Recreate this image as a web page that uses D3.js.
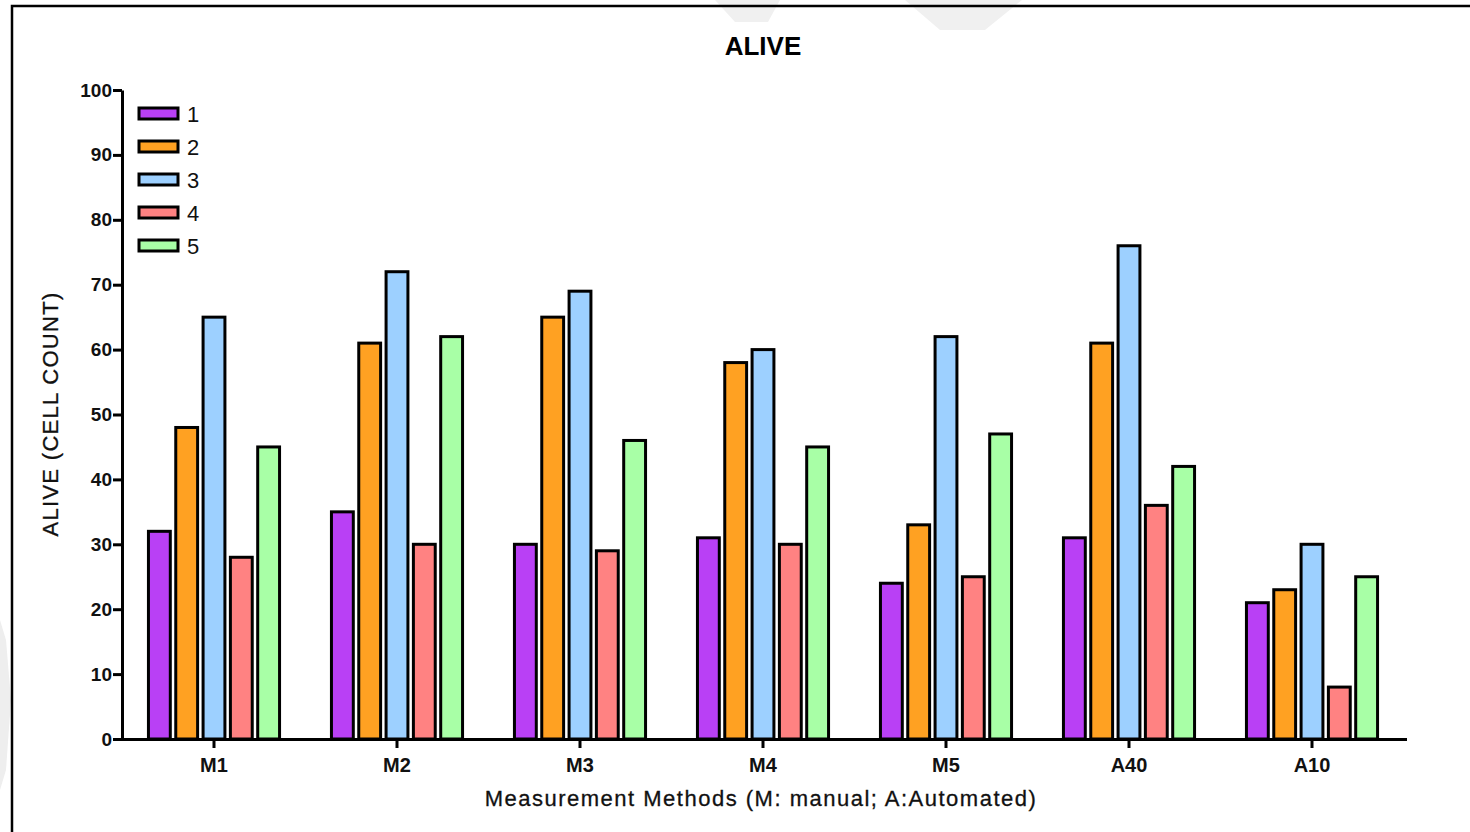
<!DOCTYPE html>
<meta charset="utf-8">
<style>
body { margin: 0; background: white; }
.axis text { font-family: "Liberation Sans", Arial, sans-serif; font-weight: bold; fill: #111; }
.axis line, .axis path { stroke: black; stroke-width: 3; }
</style>
<script src="https://d3js.org/d3.v7.min.js"></script>
<body>
<script>
const methods = ['M1', 'M2', 'M3', 'M4', 'M5', 'A40', 'A10'];
const seriesNames = ['1', '2', '3', '4', '5'];
const s1 = [32, 35, 30, 31, 24, 31, 21];
const s2 = [48, 61, 65, 58, 33, 61, 23];
const s3 = [65, 72, 69, 60, 62, 76, 30];
const s4 = [28, 30, 29, 30, 25, 36, 8];
const s5 = [45, 62, 46, 45, 47, 42, 25];
const yTicks = [0, 10, 20, 30, 40, 50, 60, 70, 80, 90, 100];
const colors = ['#b940f5', '#ffa122', '#9dd0ff', '#ff8282', '#a8ffa6'];

const series = [s1, s2, s3, s4, s5];

const W = 1470, H = 832;
const svg = d3.select('body').append('svg')
  .attr('width', W).attr('height', H)
  .style('font-family', '"Liberation Sans", Arial, sans-serif');

// faint watermark pieces behind the frame
svg.append('path').attr('d', 'M715,0 L780,0 L768,22 L735,22 Z').attr('fill', '#f0f0f0');
svg.append('path').attr('d', 'M905,0 L1022,0 L985,30 L940,30 Z').attr('fill', '#f0f0f0');
svg.append('path').attr('d', 'M0,620 L6,640 L11,700 L6,770 L0,790 Z').attr('fill', '#eeeeee');

// frame (top + left)
svg.append('path')
  .attr('d', `M12,${H} L12,6 L${W},6`)
  .attr('fill', 'none').attr('stroke', 'black').attr('stroke-width', 2.5);

const plotLeft = 122, plotRight = 1407, plotTop = 90, plotBottom = 739;

const x = d3.scaleBand().domain(methods).range([plotLeft + 0.5, plotLeft + 0.5 + 183 * 7]).paddingInner(0).paddingOuter(0);
const xs = d3.scaleBand().domain(seriesNames).range([0, x.bandwidth()]).paddingInner(0.2).paddingOuter(0.95);
const y = d3.scaleLinear().domain([0, 100]).range([plotBottom, plotTop]);

// bars
const groups = svg.append('g').selectAll('g')
  .data(methods)
  .join('g')
  .attr('transform', d => `translate(${x(d)},0)`);

groups.selectAll('rect')
  .data((m, i) => series.map((s, j) => ({ key: seriesNames[j], value: s[i], color: colors[j] })))
  .join('rect')
  .attr('x', d => xs(d.key))
  .attr('width', xs.bandwidth())
  .attr('y', d => y(d.value))
  .attr('height', d => y(0) - y(d.value))
  .attr('fill', d => d.color)
  .attr('stroke', 'black')
  .attr('stroke-width', 3);

// y axis
const yAxis = svg.append('g')
  .attr('class', 'axis')
  .attr('transform', `translate(${plotLeft},0)`)
  .call(d3.axisLeft(y).tickValues(yTicks).tickSize(9).tickSizeOuter(0).tickPadding(1));
yAxis.selectAll('text').style('font-size', '19px');

// x axis
const xAxis = svg.append('g')
  .attr('class', 'axis')
  .attr('transform', `translate(0,${plotBottom})`)
  .call(d3.axisBottom(x).tickSize(9).tickSizeOuter(0).tickPadding(10));
xAxis.select('.domain').attr('d', `M${plotLeft},0.5H${plotRight}`);
xAxis.selectAll('text').style('font-size', '20px');

// title
svg.append('text')
  .attr('x', 763).attr('y', 55)
  .attr('text-anchor', 'middle')
  .style('font-size', '26px').style('font-weight', 'bold')
  .text('ALIVE');

// axis titles
svg.append('text')
  .attr('x', 761).attr('y', 806)
  .attr('text-anchor', 'middle')
  .style('font-size', '22px').style('letter-spacing', '1.5px')
  .attr('fill', '#111').attr('stroke', '#111').attr('stroke-width', 0.3)
  .text('Measurement Methods (M: manual; A:Automated)');

svg.append('text')
  .attr('transform', 'translate(58,414) rotate(-90)')
  .attr('text-anchor', 'middle')
  .style('font-size', '22px').style('letter-spacing', '1.3px')
  .attr('fill', '#111').attr('stroke', '#111').attr('stroke-width', 0.3)
  .text('ALIVE (CELL COUNT)');

// legend
const legend = svg.append('g').selectAll('g')
  .data(seriesNames)
  .join('g')
  .attr('transform', (d, i) => `translate(139,${108 + i * 33})`);
legend.append('rect')
  .attr('width', 39).attr('height', 11)
  .attr('fill', (d, i) => colors[i])
  .attr('stroke', 'black').attr('stroke-width', 3);
legend.append('text')
  .attr('x', 48).attr('y', 14)
  .style('font-size', '22px').attr('fill', '#111')
  .text(d => d);
</script>
</body>
</html>
